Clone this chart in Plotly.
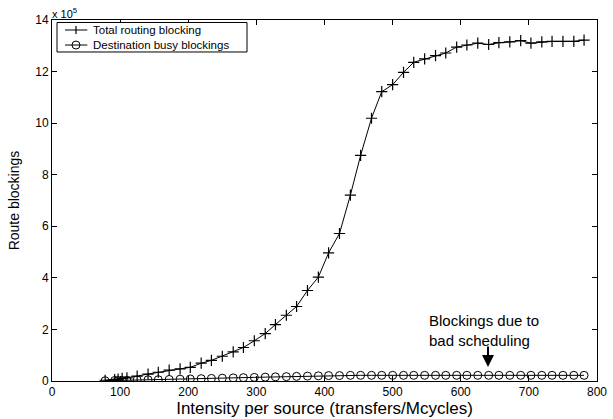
import plotly.graph_objects as go

# Data (route blockings in units of 1e5)
intensity = [78, 92, 97, 103, 110, 125, 141, 156, 172, 188, 203, 219, 234, 250, 266, 281,
             297, 313, 328, 344, 359, 375, 391, 406, 422, 438, 453, 469, 484, 500, 516, 531,
             547, 563, 578, 594, 609, 625, 641, 656, 672, 688, 703, 719, 734, 750, 766, 781]
total_routing = [0.03, 0.05, 0.07, 0.10, 0.12, 0.19, 0.27, 0.34, 0.42, 0.47, 0.53, 0.69, 0.80, 0.96, 1.13, 1.30,
                 1.56, 1.84, 2.19, 2.55, 2.89, 3.51, 4.03, 4.97, 5.72, 7.21, 8.75, 10.19, 11.22, 11.49, 11.97, 12.36,
                 12.49, 12.62, 12.72, 12.95, 13.03, 13.10, 13.05, 13.12, 13.15, 13.20, 13.10, 13.15, 13.17, 13.17, 13.17, 13.22]
dest_busy = [0.01, 0.02, 0.02, 0.02, 0.03, 0.04, 0.05, 0.05, 0.06, 0.07, 0.08, 0.09, 0.10, 0.11, 0.12, 0.13,
             0.14, 0.15, 0.16, 0.17, 0.18, 0.19, 0.20, 0.21, 0.21, 0.22, 0.22, 0.22, 0.22, 0.22, 0.22, 0.22,
             0.22, 0.22, 0.22, 0.22, 0.22, 0.22, 0.22, 0.22, 0.22, 0.22, 0.22, 0.22, 0.22, 0.22, 0.22, 0.22]
series_names = ["Total routing blocking", "Destination busy blockings"]
x_ticks = [0, 100, 200, 300, 400, 500, 600, 700, 800]
y_ticks = [0, 2, 4, 6, 8, 10, 12, 14]
note_lines = ["Blockings due to", "bad scheduling"]

FONT = "Liberation Sans, Arial, Helvetica, sans-serif"

fig = go.Figure()
fig.add_trace(go.Scatter(
    x=intensity, y=total_routing, mode="lines+markers", name=series_names[0],
    line=dict(color="black", width=1), showlegend=False,
    marker=dict(symbol="cross-thin", size=8, line=dict(color="black", width=1.2)),
))
fig.add_trace(go.Scatter(
    x=intensity, y=dest_busy, mode="lines+markers", name=series_names[1],
    line=dict(color="black", width=1), showlegend=False,
    marker=dict(symbol="circle-open", size=8, color="black", line=dict(color="black", width=1)),
))

axis_common = dict(
    showgrid=False, zeroline=False, showline=True, linecolor="black", linewidth=1,
    mirror="allticks", ticks="inside", ticklen=5, tickcolor="black", automargin=False,
    tickfont=dict(family=FONT, size=12, color="black"),
)
fig.update_xaxes(range=[0, 800], tickvals=x_ticks, **axis_common,
                 title=dict(text="Intensity per source (transfers/Mcycles)",
                            font=dict(family=FONT, size=17, color="black"), standoff=0))
fig.update_yaxes(range=[0, 14], tickvals=y_ticks, **axis_common,
                 title=dict(text="Route blockings",
                            font=dict(family=FONT, size=14, color="black"), standoff=12))

# exponent label
fig.add_annotation(x=0, y=1, xref="paper", yref="paper", xanchor="left", yanchor="bottom",
                   text="x 10<sup>5</sup>", showarrow=False, xshift=-2, yshift=-2,
                   font=dict(family=FONT, size=11, color="black"))

# arrow + note
fig.add_annotation(x=640, y=0.545, xref="x", yref="y", ax=0, ay=-22, text="",
                   showarrow=True, arrowhead=2, arrowsize=1.2, arrowwidth=2, arrowcolor="black")
fig.add_annotation(x=551, y=1.97, xref="x", yref="y", xanchor="left", yanchor="middle",
                   text="<br>".join(note_lines), showarrow=False, align="left",
                   font=dict(family=FONT, size=15, color="black"))

# compact MATLAB-style legend box
lg_x0, lg_x1, lg_y0, lg_y1 = 0.0092, 0.3578, 0.9114, 0.9931
row_y = [0.9723, 0.9307]
sym_x0, sym_x1, sym_xc, txt_x = 0.0239, 0.0648, 0.0440, 0.0728
fig.add_shape(type="rect", xref="paper", yref="paper", x0=lg_x0, x1=lg_x1, y0=lg_y0, y1=lg_y1,
              line=dict(color="black", width=1), fillcolor="white", layer="above")
for ry in row_y:
    fig.add_shape(type="line", xref="paper", yref="paper", x0=sym_x0, x1=sym_x1, y0=ry, y1=ry,
                  line=dict(color="black", width=1), layer="above")
fig.add_annotation(x=txt_x, y=(row_y[0] + row_y[1]) / 2, xref="paper", yref="paper",
                   xanchor="left", yanchor="middle", align="left", borderpad=0,
                   text="<br>".join(series_names), showarrow=False,
                   font=dict(family=FONT, size=11.5, color="black"))
# cross symbol
fig.add_shape(type="line", xref="paper", yref="paper", xsizemode="pixel", xanchor=sym_xc,
              x0=0, x1=0, ysizemode="pixel", yanchor=row_y[0], y0=-4, y1=4,
              line=dict(color="black", width=1.2), layer="above")
# circle symbol
fig.add_shape(type="circle", xref="paper", yref="paper", xsizemode="pixel", xanchor=sym_xc,
              x0=-4, x1=4, ysizemode="pixel", yanchor=row_y[1], y0=-4, y1=4,
              line=dict(color="black", width=1), fillcolor="rgba(0,0,0,0)", layer="above")

fig.update_layout(
    width=613, height=419,
    margin=dict(l=52, r=16, t=20, b=38),
    plot_bgcolor="white", paper_bgcolor="white",
    font=dict(family=FONT, color="black"),
    showlegend=False,
)

fig.write_html("out.html")
